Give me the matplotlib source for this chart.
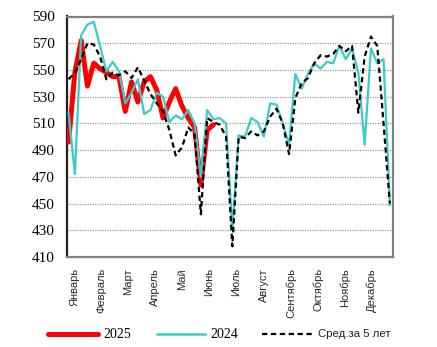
import matplotlib
matplotlib.use("Agg")
import matplotlib.pyplot as plt
from matplotlib.lines import Line2D
from matplotlib import font_manager
import numpy as np

months = ["Январь", "Февраль", "Март", "Апрель", "Май", "Июнь",
          "Июль", "Август", "Сентябрь", "Октябрь", "Ноябрь", "Декабрь"]
y_ticks = [410, 430, 450, 470, 490, 510, 530, 550, 570, 590]

s2025 = [496, 548, 572, 538, 555, 551, 548, 545, 545, 519, 541, 526, 541, 545,
         535, 514, 526, 536, 523, 514, 507, 464, 505, 509]

s2024 = [518, 472, 576, 584, 586, 568, 549, 556, 549, 525, 533, 543, 517, 520,
         533, 530, 511, 516, 513, 520, 510, 470, 520, 513, 514, 510, 430, 501,
         500, 514, 511, 500, 525, 524, 510, 494, 547, 536, 547, 555, 551, 556,
         555, 568, 558, 566, 548, 494, 566, 555, 558, 449]

avg5 = [543, 548, 558, 570, 569, 560, 543, 548, 546, 549, 544, 552, 542, 532,
        525, 519, 505, 486, 492, 507, 502, 442, 514, 511, 509, 500, 418, 500,
        499, 504, 501, 504, 515, 521, 510, 487, 529, 540, 544, 555, 561, 560,
        562, 568, 564, 568, 518, 560, 575, 568, 510, 450]

RED = "#FF0000"
CYAN = "#3CCBCB"

names = {f.name for f in font_manager.fontManager.ttflist}
if "Liberation Sans Narrow" in names:
    narrow = ["Liberation Sans Narrow", "DejaVu Sans"]
    xl_size, lg_size = 9, 9.5
else:
    narrow = ["Liberation Sans", "DejaVu Sans"]
    xl_size, lg_size = 8, 8.2

fig = plt.figure(figsize=(4.37, 3.47), dpi=100)
ax = fig.add_axes([67/437, 1-257/347, (393-67)/437, (257-16.5)/347])

ax.plot(np.arange(len(s2025)), s2025, color=RED, lw=3.6, solid_capstyle="round",
        solid_joinstyle="round", zorder=3)
ax.plot(np.arange(len(s2024)), s2024, color=CYAN, lw=1.6, solid_joinstyle="round", zorder=4)
ax.plot(np.arange(len(avg5)), avg5, color="black", lw=1.6, ls=(0, (2.4, 1.6)), zorder=5)

ax.set_xlim(-0.25, 51.5)
ax.set_ylim(410, 590)
ax.set_yticks(y_ticks)
ax.set_yticklabels([str(v) for v in y_ticks], family="Liberation Serif", fontsize=11)
ax.tick_params(axis="y", length=0, pad=9)
ax.set_xticks([0.87 + 4.3 * m for m in range(12)])
ax.set_xticklabels(months, rotation=90, family=narrow, fontsize=xl_size, color="#2a2a2a")
ax.tick_params(axis="x", length=0, pad=8)

for v in y_ticks[1:-1]:
    ax.axhline(v, color="#9a9a9a", lw=0.9, ls=(0, (1, 1)), zorder=1)

for side in ["top", "right", "bottom"]:
    ax.spines[side].set_color("#808080")
    ax.spines[side].set_linewidth(1.6)
ax.spines["left"].set_color("#222222")
ax.spines["left"].set_linewidth(1.6)

# legend
ly = 1 - 334/347
fig.add_artist(Line2D([48/437, 98/437], [ly, ly], color=RED, lw=3.6, solid_capstyle="round"))
fig.text(103/437, ly, "2025", family="Liberation Serif", fontsize=10, va="center", ha="left")
fig.add_artist(Line2D([157/437, 205/437], [ly, ly], color=CYAN, lw=1.8))
fig.text(210/437, ly, "2024", family="Liberation Serif", fontsize=10, va="center", ha="left")
fig.add_artist(Line2D([262/437, 312/437], [ly, ly], color="black", lw=1.6, ls=(0, (2.4, 1.6))))
fig.text(318/437, ly, "Сред.за 5 лет", family=narrow,
         fontsize=lg_size, va="center", ha="left", color="#222222")

fig.savefig("out.png", dpi=100)
